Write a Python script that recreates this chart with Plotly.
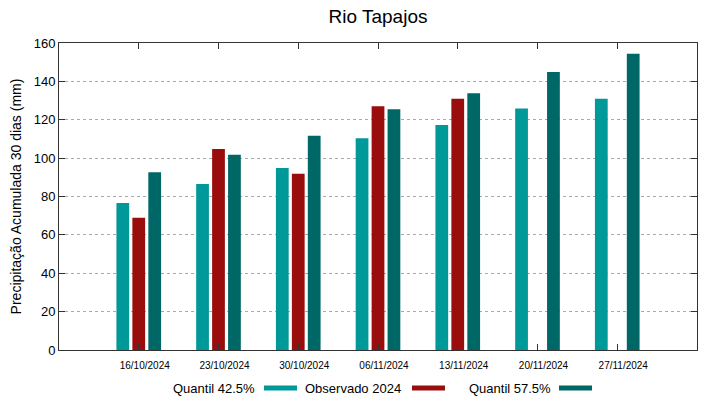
import plotly.graph_objects as go

categories = ["16/10/2024", "23/10/2024", "30/10/2024", "06/11/2024", "13/11/2024", "20/11/2024", "27/11/2024"]
quantil_425 = [76.6, 86.5, 94.8, 110.4, 117.2, 125.8, 130.9]
observado_2024 = [68.9, 104.8, 91.8, 127.0, 130.9, None, None]
quantil_575 = [92.7, 101.7, 111.6, 125.5, 133.8, 144.9, 154.4]

series_names = ["Quantil 42.5%", "Observado 2024", "Quantil 57.5%"]
colors = ["#009999", "#990d0d", "#006767"]

fig = go.Figure()
for name, vals, col in zip(series_names, [quantil_425, observado_2024, quantil_575], colors):
    fig.add_trace(go.Bar(x=categories, y=vals, name=name, marker=dict(color=col, line=dict(width=0)),
                         showlegend=False))

font = "Liberation Sans, Arial, sans-serif"
fig.update_layout(
    width=719, height=399,
    margin=dict(l=59, r=22, t=43, b=49),
    paper_bgcolor="white", plot_bgcolor="white",
    barmode="group", bargap=0.4, bargroupgap=0.2,
    font=dict(family=font, color="#000"),
    title=dict(text="Rio Tapajos", x=378 / 719, xanchor="center", y=0.96, yanchor="middle",
               font=dict(size=19, family=font, color="#000")),
    xaxis=dict(type="category", range=[-1, 7], showline=True, linecolor="#333", linewidth=1, mirror="ticks",
               ticks="inside", ticklen=6, tickcolor="#333", tickfont=dict(size=10), showgrid=False,
               ticklabelstandoff=6, ticklabelshift=6),
    yaxis=dict(range=[0, 160], dtick=20, showline=True, linecolor="#333", linewidth=1, mirror="ticks",
               ticks="inside", ticklen=6, tickcolor="#333", tickfont=dict(size=13),
               showgrid=True, gridcolor="#aaa", griddash="dot", gridwidth=1, zeroline=False,
               title=dict(text="Precipitação Acumulada 30 dias (mm)", font=dict(size=14), standoff=8)),
)

# custom gnuplot-style legend: text followed by sample
legend_items = [
    (series_names[0], colors[0], 257, 264, 297),
    (series_names[1], colors[1], 403, 412, 445),
    (series_names[2], colors[2], 553, 559, 592),
]
ly = 388
for text, col, tx, x0, x1 in legend_items:
    fig.add_annotation(text=text, xref="paper", yref="paper",
                       x=(tx - 59) / (719 - 59 - 22), y=(399 - 49 - ly) / (399 - 43 - 49),
                       xanchor="right", yanchor="middle", showarrow=False, font=dict(size=13, family=font))
    fig.add_shape(type="rect", xref="paper", yref="paper",
                  x0=(x0 - 59) / 638, x1=(x1 - 59) / 638,
                  y0=(399 - 49 - ly - 2.5) / 307, y1=(399 - 49 - ly + 2.5) / 307,
                  fillcolor=col, line=dict(width=0))

fig.write_html("out.html", config={"displayModeBar": False},
               post_script="document.body.style.margin='0';document.body.style.overflow='hidden';")
